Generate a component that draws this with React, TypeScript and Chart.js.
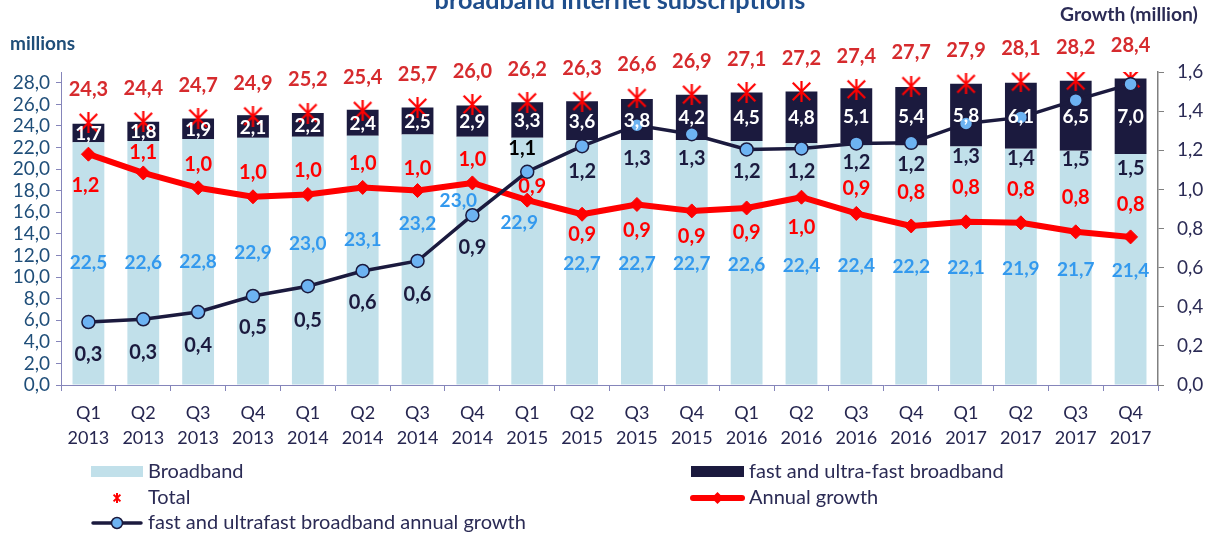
import React, { useEffect, useRef } from 'react';
import { Chart, registerables } from 'chart.js';

Chart.register(...registerables);

// ---------- data ----------
const quarters = ['Q1', 'Q2', 'Q3', 'Q4', 'Q1', 'Q2', 'Q3', 'Q4', 'Q1', 'Q2', 'Q3', 'Q4', 'Q1', 'Q2', 'Q3', 'Q4', 'Q1', 'Q2', 'Q3', 'Q4'];
const years = ['2013', '2013', '2013', '2013', '2014', '2014', '2014', '2014', '2015', '2015', '2015', '2015', '2016', '2016', '2016', '2016', '2017', '2017', '2017', '2017'];
const broadband = [22.5, 22.6, 22.8, 22.9, 23.0, 23.1, 23.2, 23.0, 22.9, 22.7, 22.7, 22.7, 22.6, 22.4, 22.4, 22.2, 22.1, 21.9, 21.7, 21.4];
const fastBroadband = [1.7, 1.8, 1.9, 2.1, 2.2, 2.4, 2.5, 2.9, 3.3, 3.6, 3.8, 4.2, 4.5, 4.8, 5.1, 5.4, 5.8, 6.1, 6.5, 7.0];
const total = [24.3, 24.4, 24.7, 24.9, 25.2, 25.4, 25.7, 26.0, 26.2, 26.3, 26.6, 26.9, 27.1, 27.2, 27.4, 27.7, 27.9, 28.1, 28.2, 28.4];
const annualGrowth = [1.18, 1.084, 1.008, 0.962, 0.974, 1.01, 0.994, 1.033, 0.945, 0.873, 0.923, 0.89, 0.905, 0.96, 0.877, 0.813, 0.834, 0.829, 0.783, 0.757];
const fastGrowth = [0.322, 0.336, 0.373, 0.455, 0.505, 0.583, 0.634, 0.868, 1.09, 1.221, 1.328, 1.282, 1.204, 1.209, 1.235, 1.238, 1.337, 1.368, 1.456, 1.538];
const leftTicks = [0, 2, 4, 6, 8, 10, 12, 14, 16, 18, 20, 22, 24, 26, 28];
const rightTicks = [0, 0.2, 0.4, 0.6, 0.8, 1.0, 1.2, 1.4, 1.6];

const titleText = 'broadband internet subscriptions';
const leftUnit = 'millions';
const rightUnit = 'Growth (million)';
const seriesNames = ['Broadband', 'fast and ultra-fast broadband', 'Total', 'Annual growth', 'fast and ultrafast broadband annual growth'];

// ---------- label placement tweaks (pixels) ----------
const bbLabelDy = [0, 0, 0, -8, -17, -20, -36, -60, -38, 2, 2, 2, 2, 2, 2, 2, 2, 2, 2, 2];
const bbLabelDx = [0, 0, 0, 0, 0, 0, 0, -14, -8, 0, 0, 0, 0, 0, 0, 0, 0, 0, 0, 0];
const growthLabelDy = [31, -20, -23, -24, -24, -24, -22, -23, -14, 20, 26, 26, 25, 30, -25, -33, -34, -33, -34, -32];
const growthLabelDx = [-3, 0, 0, 0, 0, 0, 0, 0, 5, 0, 0, 0, 0, 0, 0, 0, 0, 0, 0, 0];
const fastGrowthLabelDy = [33, 33, 34, 32, 34, 32, 34, 32, -23, 25, 33, 24, 22, 23, 19, 22, 33, 41, 59, 84];
const fastGrowthLabelDx = [0, 0, 0, 0, 0, 0, 0, 0, -5, 0, 0, 0, 0, 0, 0, 0, 0, 0, 0, 0];

// ---------- styles ----------
const FONT = 'Lato';
const C_BB = '#C1E0EA';
const C_FAST = '#1B1A3E';
const C_RED = '#FF0000';
const C_TOTAL_LABEL = '#D62B2E';
const C_BB_LABEL = '#3399EE';
const C_DOT = '#6DB3F2';
const C_AXIS_LEFT = '#1F4E79';
const C_NAVY_TEXT = '#2B2B55';
const C_AXIS_LINE = '#8585BA';

const fmt = (v: number) => v.toFixed(1).replace('.', ',');

function makeStar(size: number, lw: number) {
  const c = document.createElement('canvas');
  c.width = size;
  c.height = size;
  const g = c.getContext('2d')!;
  g.strokeStyle = C_RED;
  g.lineWidth = lw;
  const m = lw * 0.8;
  g.beginPath();
  g.moveTo(m, m);
  g.lineTo(size - m, size - m);
  g.moveTo(size - m, m);
  g.lineTo(m, size - m);
  g.moveTo(size / 2, 0);
  g.lineTo(size / 2, size);
  g.stroke();
  return c;
}

function fitText(ctx: CanvasRenderingContext2D, text: string, x: number, y: number, width: number, weight: string, color: string, align: CanvasTextAlign) {
  ctx.font = `${weight} 20px ${FONT}`;
  const w = ctx.measureText(text).width;
  const size = (20 * width) / w;
  ctx.font = `${weight} ${size}px ${FONT}`;
  ctx.fillStyle = color;
  ctx.textAlign = align;
  ctx.textBaseline = 'alphabetic';
  ctx.fillText(text, x, y);
}

const labelsPlugin = {
  id: 'customLabels',
  afterDatasetsDraw(chart: any) {
    const ctx: CanvasRenderingContext2D = chart.ctx;
    ctx.save();
    ctx.textAlign = 'center';
    ctx.textBaseline = 'middle';

    const bbMeta = chart.getDatasetMeta(0);
    ctx.font = `bold 19px ${FONT}`;
    ctx.fillStyle = C_BB_LABEL;
    bbMeta.data.forEach((el: any, i: number) => {
      const cy = (el.y + el.base) / 2;
      ctx.fillText(fmt(broadband[i]), el.x + bbLabelDx[i], cy + bbLabelDy[i]);
    });

    const fastMeta = chart.getDatasetMeta(1);
    ctx.fillStyle = '#FFFFFF';
    fastMeta.data.forEach((el: any, i: number) => {
      const cy = (el.y + el.base) / 2;
      ctx.fillText(fmt(fastBroadband[i]), el.x, cy + 1);
    });

    const totMeta = chart.getDatasetMeta(2);
    ctx.font = `bold 20px ${FONT}`;
    ctx.fillStyle = C_TOTAL_LABEL;
    totMeta.data.forEach((el: any, i: number) => {
      ctx.fillText(fmt(total[i]), el.x, el.y - 33);
    });

    const grMeta = chart.getDatasetMeta(3);
    ctx.fillStyle = C_RED;
    grMeta.data.forEach((el: any, i: number) => {
      ctx.fillText(fmt(annualGrowth[i]), el.x + growthLabelDx[i], el.y + growthLabelDy[i]);
    });

    const fgMeta = chart.getDatasetMeta(4);
    fgMeta.data.forEach((el: any, i: number) => {
      ctx.fillStyle = i === 8 ? '#000000' : C_FAST;
      ctx.fillText(fmt(fastGrowth[i]), el.x + fastGrowthLabelDx[i], el.y + fastGrowthLabelDy[i]);
    });
    ctx.restore();
  },
  afterDraw(chart: any) {
    const ctx: CanvasRenderingContext2D = chart.ctx;
    ctx.save();
    // title & units
    fitText(ctx, titleText, 620, 9, 371, 'bold', '#1F4E8C', 'center');
    fitText(ctx, leftUnit, 10, 50, 65, 'bold', C_AXIS_LEFT, 'left');
    fitText(ctx, rightUnit, 1060, 21, 138, 'bold', C_NAVY_TEXT, 'left');

    // legend
    const rows = [471.5, 498, 523];
    const lx0 = 91, lx1 = 143, ltx = 148;
    const rx0 = 691, rx1 = 744, rtx = 749;
    ctx.font = `20px ${FONT}`;
    ctx.fillStyle = C_NAVY_TEXT;
    ctx.textAlign = 'left';
    ctx.textBaseline = 'middle';
    ctx.fillText(seriesNames[0], ltx, rows[0]);
    ctx.fillText(seriesNames[2], ltx, rows[1]);
    ctx.fillText(seriesNames[4], ltx, rows[2]);
    ctx.fillText(seriesNames[1], rtx, rows[0]);
    ctx.fillText(seriesNames[3], rtx, rows[1]);

    ctx.fillStyle = C_BB;
    ctx.fillRect(lx0, rows[0] - 5.5, lx1 - lx0, 11);
    ctx.fillStyle = C_FAST;
    ctx.fillRect(rx0, rows[0] - 5.5, rx1 - rx0, 11);

    const smallStar = makeStar(10, 2);
    ctx.drawImage(smallStar, (lx0 + lx1) / 2 - 5, rows[1] - 5);

    ctx.strokeStyle = C_RED;
    ctx.lineWidth = 6;
    ctx.lineCap = 'round';
    ctx.beginPath();
    ctx.moveTo(rx0 + 2, rows[1]);
    ctx.lineTo(rx1 - 2, rows[1]);
    ctx.stroke();
    ctx.fillStyle = C_RED;
    const dmx = (rx0 + rx1) / 2;
    ctx.beginPath();
    ctx.moveTo(dmx, rows[1] - 6);
    ctx.lineTo(dmx + 6, rows[1]);
    ctx.lineTo(dmx, rows[1] + 6);
    ctx.lineTo(dmx - 6, rows[1]);
    ctx.closePath();
    ctx.fill();

    ctx.strokeStyle = C_FAST;
    ctx.lineWidth = 3.5;
    ctx.beginPath();
    ctx.moveTo(lx0 + 2, rows[2]);
    ctx.lineTo(lx1 - 2, rows[2]);
    ctx.stroke();
    ctx.fillStyle = C_DOT;
    ctx.lineWidth = 1.5;
    ctx.beginPath();
    ctx.arc((lx0 + lx1) / 2, rows[2], 5.5, 0, Math.PI * 2);
    ctx.fill();
    ctx.stroke();
    ctx.restore();
  },
};

export default function App() {
  const canvasRef = useRef<HTMLCanvasElement | null>(null);

  useEffect(() => {
    document.body.style.margin = '0';
    const canvas = canvasRef.current;
    if (!canvas) return;
    const star = makeStar(21, 2.2);

    const chart = new Chart(canvas, {
      type: 'bar',
      data: {
        labels: quarters.map((q, i) => [q, years[i]]),
        datasets: [
          {
            type: 'bar',
            label: seriesNames[0],
            data: broadband,
            backgroundColor: C_BB,
            yAxisID: 'yL',
            stack: 'bars',
            order: 3,
            categoryPercentage: 1,
            barPercentage: 0.58,
          },
          {
            type: 'bar',
            label: seriesNames[1],
            data: fastBroadband,
            backgroundColor: C_FAST,
            yAxisID: 'yL',
            stack: 'bars',
            order: 4,
            categoryPercentage: 1,
            barPercentage: 0.58,
          },
          {
            type: 'line',
            label: seriesNames[2],
            data: total,
            yAxisID: 'yL',
            stack: 'total',
            showLine: false,
            pointStyle: star as any,
            pointRadius: 10,
            order: 2,
          } as any,
          {
            type: 'line',
            label: seriesNames[3],
            data: annualGrowth,
            yAxisID: 'yR',
            borderColor: C_RED,
            backgroundColor: C_RED,
            borderWidth: 6,
            borderJoinStyle: 'round',
            pointStyle: 'rectRot',
            pointRadius: 7,
            pointBackgroundColor: C_RED,
            pointBorderColor: C_RED,
            pointBorderWidth: 1,
            tension: 0,
            order: 1,
          },
          {
            type: 'line',
            label: seriesNames[4],
            data: fastGrowth,
            yAxisID: 'yR',
            borderColor: C_FAST,
            backgroundColor: C_DOT,
            borderWidth: 3.5,
            pointStyle: 'circle',
            pointRadius: 6.5,
            pointBackgroundColor: C_DOT,
            pointBorderColor: C_FAST,
            pointBorderWidth: 1.5,
            tension: 0,
            order: 0,
          },
        ],
      },
      options: {
        responsive: false,
        animation: false,
        devicePixelRatio: 1,
        layout: { padding: { top: 72, left: 0, right: 0, bottom: 0 } },
        plugins: {
          legend: { display: false },
          tooltip: { enabled: false },
          title: { display: false },
        },
        scales: {
          x: {
            stacked: true,
            offset: true,
            grid: { display: true, drawOnChartArea: false, drawTicks: true, tickLength: 6, color: C_AXIS_LINE, offset: true },
            border: { display: true, color: C_AXIS_LINE, width: 1 },
            ticks: {
              color: '#262650',
              font: { family: FONT, size: 18, lineHeight: 1.42 },
              padding: 9,
              maxRotation: 0,
              autoSkip: false,
            },
            afterFit: (s: any) => { s.height = 150; },
          },
          yL: {
            type: 'linear',
            position: 'left',
            stacked: true,
            min: 0,
            max: 29,
            grid: { display: true, drawOnChartArea: false, drawTicks: true, tickLength: 5, color: C_AXIS_LINE },
            border: { display: true, color: C_AXIS_LINE, width: 1 },
            ticks: {
              color: C_AXIS_LEFT,
              font: { family: FONT, size: 19 },
              padding: 6,
              autoSkip: false,
              callback: (v: any) => fmt(Number(v)),
            },
            afterBuildTicks: (s: any) => { s.ticks = leftTicks.map((v) => ({ value: v })); },
            afterFit: (s: any) => { s.width = 61; },
          },
          yR: {
            type: 'linear',
            position: 'right',
            min: 0,
            max: 1.6,
            grid: { display: true, drawOnChartArea: false, drawTicks: true, tickLength: 6, color: '#808080' },
            border: { display: true, color: '#808080', width: 1.5 },
            ticks: {
              color: C_NAVY_TEXT,
              font: { family: FONT, size: 19 },
              padding: 13,
              autoSkip: false,
              callback: (v: any) => fmt(Number(v)),
            },
            afterBuildTicks: (s: any) => { s.ticks = rightTicks.map((v) => ({ value: v })); },
            afterFit: (s: any) => { s.width = 54; },
          },
        },
      },
      plugins: [labelsPlugin],
    });
    return () => chart.destroy();
  }, []);

  return (
    <div style={{ width: 1212, height: 535, position: 'relative', background: '#FFFFFF' }}>
      <canvas ref={canvasRef} width={1212} height={535} style={{ display: 'block' }} />
    </div>
  );
}
